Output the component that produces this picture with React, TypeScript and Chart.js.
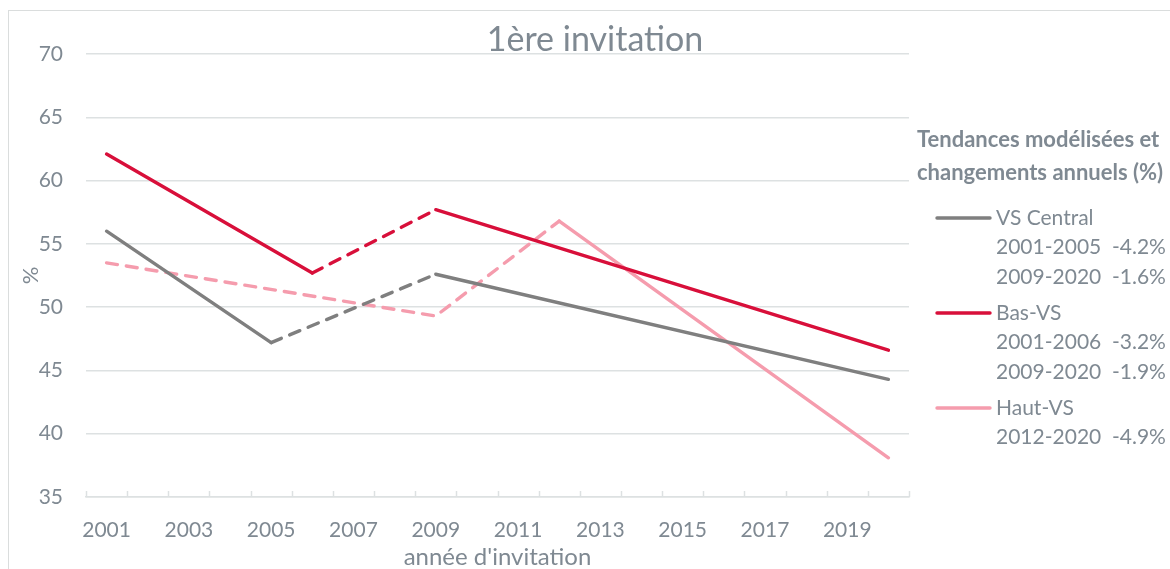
import React, { useEffect, useRef } from "react";
import { Chart, registerables } from "chart.js";

Chart.register(...registerables);

const years = ["2001", "2002", "2003", "2004", "2005", "2006", "2007", "2008", "2009", "2010",
  "2011", "2012", "2013", "2014", "2015", "2016", "2017", "2018", "2019", "2020"];

const vsCentral = [56.0, null, null, null, 47.2, null, null, null, 52.6, null,
  null, null, null, null, null, null, null, null, null, 44.3];
const basVS = [62.1, null, null, null, null, 52.7, null, null, 57.7, null,
  null, null, null, null, null, null, null, null, null, 46.6];
const hautVS = [53.5, null, null, null, null, null, null, null, 49.3, null,
  null, 56.8, null, null, null, null, null, null, null, 38.1];

// [from, to] year ranges drawn dashed
const vsCentralDashed = [["2005", "2009"]];
const basVSDashed = [["2006", "2009"]];
const hautVSDashed = [["2001", "2012"]];

const yTicks = [35, 40, 45, 50, 55, 60, 65, 70];

const chartTitle = "1ère invitation";
const xTitle = "année d'invitation";
const yTitle = "%";
const legendTitle = ["Tendances modélisées et", "changements annuels (%)"];
const seriesNames = ["VS Central", "Bas-VS", "Haut-VS"];
const vsCentralNotes = ["2001-2005  -4.2%", "2009-2020  -1.6%"];
const basVSNotes = ["2001-2006  -3.2%", "2009-2020  -1.9%"];
const hautVSNotes = ["2012-2020  -4.9%"];

const GRAY = "#7f7f7f";
const RED = "#d80f3a";
const PINK = "#f59cad";
const TEXT = "#7f8992";
const GRID = "#dde1e2";
const FONT = "Lato, 'Open Sans', sans-serif";

export default function App() {
  const ref = useRef<HTMLCanvasElement | null>(null);

  useEffect(() => {
    if (!ref.current) return;

    const mkDataset = (label: string, data: (number | null)[], color: string, dashed: string[][]) => {
      const ranges = dashed.map(([a, b]) => [years.indexOf(a), years.indexOf(b)]);
      return {
        label,
        data,
        borderColor: color,
        backgroundColor: color,
        borderWidth: 3.4,
        borderCapStyle: "round" as const,
        borderJoinStyle: "round" as const,
        pointRadius: 0,
        pointHoverRadius: 0,
        spanGaps: true,
        tension: 0,
        segment: {
          borderDash: (ctx: any) =>
            ranges.some(([a, b]) => ctx.p0DataIndex >= a && ctx.p1DataIndex <= b) ? [11, 9] : undefined,
        },
      };
    };

    const titlePlugin = {
      id: "titlePlugin",
      afterDraw(chart: any) {
        const { ctx, chartArea } = chart;
        ctx.save();
        ctx.font = `34px ${FONT}`;
        ctx.fillStyle = TEXT;
        ctx.textAlign = "center";
        ctx.textBaseline = "alphabetic";
        ctx.fillText(chartTitle, (chart.width + 20) / 2, chartArea.top - 3);
        ctx.restore();
      },
    };

    const tickMarks = {
      id: "tickMarks",
      afterDraw(chart: any) {
        const { ctx } = chart;
        const xs = chart.scales.x;
        const n = years.length;
        const step = (xs.right - xs.left) / n;
        ctx.save();
        ctx.strokeStyle = GRID;
        ctx.lineWidth = 1.5;
        for (let i = 0; i <= n; i++) {
          const x = Math.round(xs.left + i * step) + 0.5;
          ctx.beginPath();
          ctx.moveTo(x, xs.top - 6);
          ctx.lineTo(x, xs.top);
          ctx.stroke();
        }
        ctx.restore();
      },
    };

    const legendPlugin = {
      id: "customLegend",
      afterDraw(chart: any) {
        const { ctx, chartArea } = chart;
        const left = chartArea.right + 8;
        ctx.save();
        ctx.textBaseline = "middle";
        ctx.textAlign = "left";
        ctx.fillStyle = TEXT;
        ctx.font = `bold 22px ${FONT}`;
        ctx.fillText(legendTitle[0], left, 140);
        ctx.fillText(legendTitle[1], left, 173);
        const groups = [
          { name: seriesNames[0], color: GRAY, notes: vsCentralNotes, y: 218 },
          { name: seriesNames[1], color: RED, notes: basVSNotes, y: 313 },
          { name: seriesNames[2], color: PINK, notes: hautVSNotes, y: 408 },
        ];
        ctx.font = `21px ${FONT}`;
        const lineStep = 29.5;
        groups.forEach((g) => {
          ctx.strokeStyle = g.color;
          ctx.lineWidth = 3.4;
          ctx.lineCap = "round";
          ctx.beginPath();
          ctx.moveTo(left + 20, g.y);
          ctx.lineTo(left + 73, g.y);
          ctx.stroke();
          ctx.fillText(g.name, left + 79, g.y);
          g.notes.forEach((t, i) => ctx.fillText(t, left + 79, g.y + (i + 1) * lineStep));
        });
        ctx.restore();
      },
    };

    const chart = new Chart(ref.current, {
      type: "line",
      data: {
        labels: years,
        datasets: [
          mkDataset(seriesNames[0], vsCentral, GRAY, vsCentralDashed),
          mkDataset(seriesNames[1], basVS, RED, basVSDashed),
          mkDataset(seriesNames[2], hautVS, PINK, hautVSDashed),
        ],
      },
      options: {
        animation: false,
        responsive: false,
        maintainAspectRatio: false,
        layout: { padding: { left: 18, top: 54, right: 261, bottom: 0 } },
        plugins: {
          legend: { display: false },
          title: { display: false },
          tooltip: { enabled: false },
        },
        scales: {
          x: {
            type: "category",
            offset: true,
            afterFit: (s: any) => { s.height = 72; },
            grid: { display: true, drawOnChartArea: false, drawTicks: false },
            border: { display: true, color: GRID, width: 1.5 },
            ticks: {
              autoSkip: false,
              maxRotation: 0,
              padding: 21,
              color: TEXT,
              font: { family: FONT, size: 21 },
              callback: (_v: any, i: number) => (i % 2 === 0 ? years[i] : ""),
            },
            title: {
              display: true,
              text: xTitle,
              color: TEXT,
              font: { family: FONT, size: 24 },
              padding: { top: 0, bottom: -3 },
            },
          },
          y: {
            min: yTicks[0],
            max: yTicks[yTicks.length - 1],
            afterFit: (s: any) => { s.width = 68; },
            afterBuildTicks: (s: any) => { s.ticks = yTicks.map((v) => ({ value: v })); },
            grid: { color: GRID, lineWidth: 1.5, drawTicks: false },
            border: { display: false },
            ticks: {
              padding: 23,
              color: TEXT,
              font: { family: FONT, size: 21 },
            },
            title: {
              display: true,
              text: yTitle,
              color: TEXT,
              font: { family: FONT, size: 22 },
              padding: 0,
            },
          },
        },
      },
      plugins: [titlePlugin, tickMarks, legendPlugin],
    });
    return () => chart.destroy();
  }, []);

  return (
    <div style={{ position: "fixed", left: 0, top: 0, width: 1170, height: 569, overflow: "hidden", background: "#fff" }}>
      <div style={{ position: "absolute", left: 8, top: 10, width: 1200, height: 600, borderTop: "1.5px solid #dadddd", borderLeft: "1.5px solid #dadddd" }} />
      <canvas ref={ref} width={1170} height={569} style={{ position: "absolute", left: 0, top: 0, width: 1170, height: 569 }} />
    </div>
  );
}
